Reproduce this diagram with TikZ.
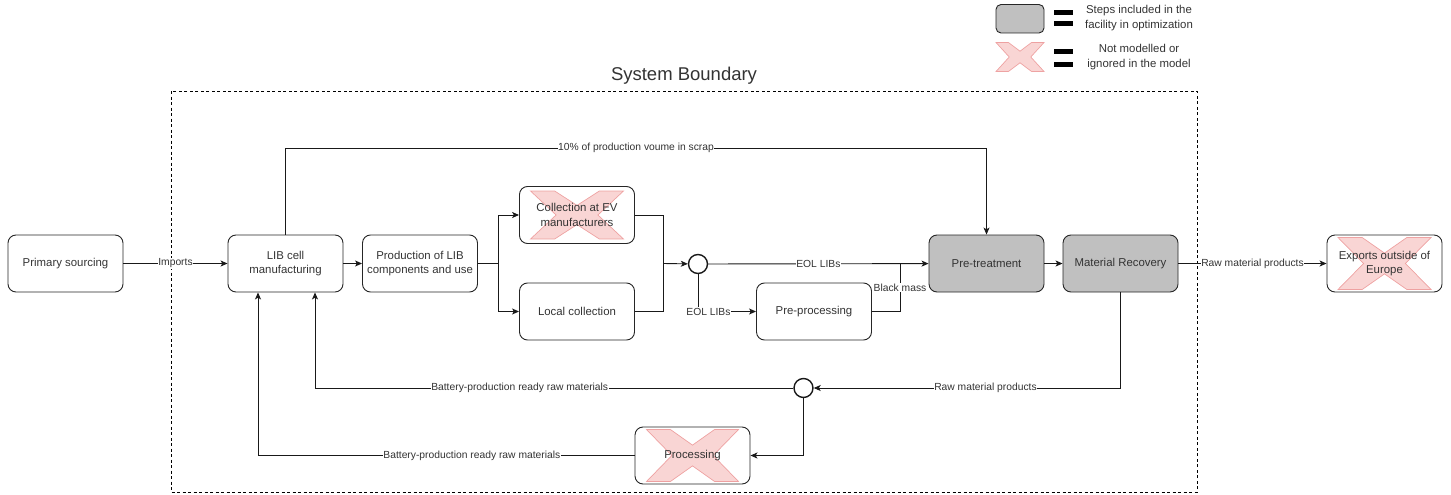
\documentclass[tikz,border=0pt]{standalone}
\usepackage{fontspec}
\setmainfont{Liberation Sans}
\usetikzlibrary{arrows.meta, backgrounds}

\definecolor{boxgray}{RGB}{192,192,192}
\definecolor{crossfill}{RGB}{248,206,204}
\definecolor{crossline}{RGB}{236,150,150}
\definecolor{txt}{RGB}{51,51,51}

\newcommand\boxfont{\fontsize{11.4}{14.5}\selectfont}
\newcommand\edgefont{\fontsize{10.3}{12}\selectfont}

% pink "not modelled" cross: centre point, width, height
\newcommand\pinkcross[3]{%
  \begin{scope}[shift={(#1)}, xscale=#2/2, yscale=#3/2]
    \filldraw[fill=crossfill, draw=crossline, line width=0.7pt, opacity=0.85]
      (-1,-1) -- (-0.48,-1) -- (0,-0.4) -- (0.48,-1) -- (1,-1) -- (0.45,0)
      -- (1,1) -- (0.48,1) -- (0,0.4) -- (-0.48,1) -- (-1,1) -- (-0.45,0) -- cycle;
  \end{scope}}

\tikzset{
  box/.style={draw=black!85, rounded corners=8pt, minimum width=115pt,
    minimum height=57pt, align=center, text=txt, font=\boxfont,
    line width=0.9pt, inner sep=2pt},
  graybox/.style={box, fill=boxgray},
  junc/.style={circle, draw=black!90, line width=1.4pt, minimum size=19pt,
    inner sep=0pt, fill=white},
  lbl/.style={fill=white, inner sep=0.6pt, font=\edgefont, text=txt},
  ln/.style={line width=0.9pt, draw=black!90},
  arr/.style={ln, -{Stealth[length=7pt,width=6pt,inset=1.8pt]}},
}

\begin{document}
\begin{tikzpicture}[x=1pt, y=-1pt]
\useasboundingbox (0,0) rectangle (1451,495);

% ---------- legend ----------
\filldraw[fill=boxgray, draw=black!85, line width=0.9pt, rounded corners=5pt]
  (996,4.5) rectangle (1044,33);
\fill[black] (1054,10) rectangle (1073,15);
\fill[black] (1054,21.5) rectangle (1073,26.5);
\node[align=center, text=txt, font=\boxfont] (legA) at (1139,18)
  {Steps included in the\\facility in optimization};
\coordinate (legX) at (1020,57);
\pinkcross{legX}{48}{29}
\fill[black] (1054,49) rectangle (1073,54);
\fill[black] (1054,62) rectangle (1073,67);
\node[align=center, text=txt, font=\boxfont] (legB) at (1139,57)
  {Not modelled or\\ignored in the model};

% ---------- system boundary ----------
\draw[line width=0.8pt, dash pattern=on 3pt off 2.5pt] (171,91) rectangle (1197,492);
\node[text=txt, font=\fontsize{18.5}{20}\selectfont] (sbtitle) at (684,76) {System Boundary};

% ---------- process steps ----------
\node[box] (ps)   at (65.5,263.5)  {Primary sourcing};
\node[box] (lib)  at (285.5,263.5) {LIB cell\\manufacturing};
\node[box] (prod) at (420,263.5)   {Production of LIB\\components and use};
\node[box] (cev)  at (577,215)     {Collection at EV\\manufacturers};
\node[box] (lc)   at (577,311.5)   {Local collection};
\node[box] (pp)   at (814,311.5)   {Pre-processing};
\node[graybox] (pt) at (986.5,263.5)  {Pre-treatment};
\node[graybox] (mr) at (1120.5,263.5) {Material Recovery};
\node[box] (ex)   at (1384.5,263.5) {Exports outside of\\Europe};
\node[box] (proc) at (692.5,455.5)  {Processing};

% steps left out of the model, crossed out behind their text
\begin{scope}[on background layer]
  \pinkcross{cev}{93}{48}
  \pinkcross{ex}{93}{52}
  \pinkcross{proc}{92}{52}
\end{scope}

% junctions
\node[junc] (j1) at (698,264) {};
\node[junc] (j2) at (803.5,388) {};

% helper points on the flow lines
\coordinate (split) at (498,263.5);
\coordinate (merge) at (663,263.5);
\coordinate (bm)    at (900,263.5);

% ---------- flows ----------
\draw[arr] (ps) -- node[lbl] {Imports} (lib);
\draw[arr] (lib) -- (prod);
\draw[arr] (lib.north) -- (lib.north |- 0,148)
  -- node[lbl] {10\% of production voume in scrap} (pt.north |- 0,148) -- (pt.north);

\draw[ln] (prod) -- (split);
\draw[arr] (split) |- (cev);
\draw[arr] (split) |- (lc);
\draw[ln] (cev) -| (merge);
\draw[ln] (lc) -| (merge);
\draw[arr] (merge) -- (j1);

\draw[arr] (j1) -- node[lbl] {EOL LIBs} (pt);
\draw[arr] (j1) |- node[lbl, pos=0.59] {EOL LIBs} (pp);
\draw[ln] (pp) -| node[lbl, pos=0.75] {Black mass} (bm);

\draw[arr] (pt) -- (mr);
\draw[arr] (mr) -- node[lbl] {Raw material products} (ex);

\draw[arr] (mr.south) |- node[lbl, pos=0.72] {Raw material products} (j2);
\draw[arr] (j2) -| node[lbl, pos=0.286] {Battery-production ready raw materials}
  ([xshift=29.5pt]lib.south);
\draw[arr] (j2) |- (proc);
\draw[arr] (proc) -| node[lbl, pos=0.216] {Battery-production ready raw materials}
  ([xshift=-27.5pt]lib.south);

\end{tikzpicture}
\end{document}
